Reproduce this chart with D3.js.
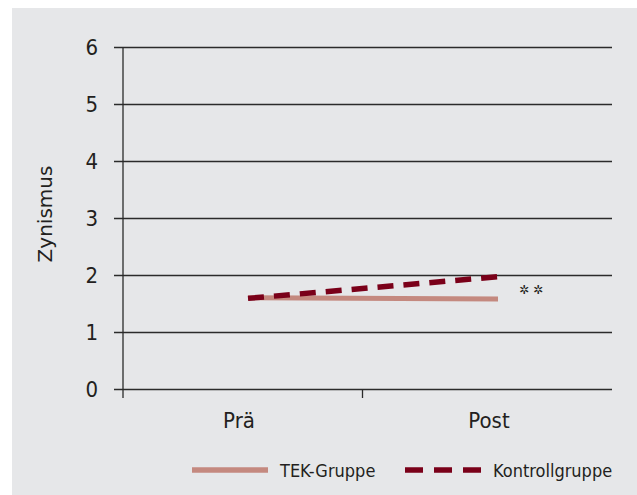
<!DOCTYPE html>
<html>
<head>
<meta charset="utf-8">
<script src="https://cdn.jsdelivr.net/npm/d3@7"></script>
<style>
  html, body { margin: 0; padding: 0; background: #ffffff; }
  svg { display: block; }
  text { font-family: "DejaVu Sans Condensed", "DejaVu Sans", sans-serif; fill: #231f20; }
</style>
</head>
<body>
<svg id="chart" width="637" height="495"></svg>
<script>
// Measurement times and group means
const categories = ["Prä", "Post"];
const tekValues = [1.60, 1.58];
const kontrollValues = [1.59, 1.97];
const yTicks = [0, 1, 2, 3, 4, 5, 6];
const seriesNames = ["TEK-Gruppe", "Kontrollgruppe"];
const yLabel = "Zynismus";
const significance = "✲ ✲";

const svg = d3.select("#chart");

// Panel background
svg.append("rect")
  .attr("x", 12).attr("y", 8)
  .attr("width", 625).attr("height", 487)
  .attr("fill", "#e6e7e9");

const plot = { left: 123, right: 612, top: 47, bottom: 389 };

const y = d3.scaleLinear().domain([0, 6]).range([plot.bottom, plot.top]);
const x = d3.scalePoint().domain(categories).range([plot.left, 623]).padding(0.5);

// Horizontal gridlines with y-axis ticks
const yAxis = d3.axisLeft(y)
  .tickValues(yTicks)
  .tickFormat(d3.format("d"))
  .tickSize(-(plot.right - plot.left))
  .tickPadding(25);

const gy = svg.append("g")
  .attr("transform", `translate(${plot.left},0)`)
  .call(yAxis);
gy.select(".domain").remove();
gy.selectAll(".tick line")
  .attr("x1", -9)
  .attr("stroke", "#2b2b2b")
  .attr("stroke-width", 1.3);
gy.selectAll(".tick text")
  .attr("font-size", 22)
  .attr("fill", "#231f20")
  .style("font-family", "'DejaVu Sans Condensed', 'DejaVu Sans', sans-serif");

// Vertical axis line
svg.append("line")
  .attr("x1", plot.left).attr("x2", plot.left)
  .attr("y1", plot.top).attr("y2", plot.bottom + 9)
  .attr("stroke", "#2b2b2b").attr("stroke-width", 1.3);

// Category divider tick on the x axis
svg.append("line")
  .attr("x1", (plot.left + plot.right) / 2 - 5).attr("x2", (plot.left + plot.right) / 2 - 5)
  .attr("y1", plot.bottom).attr("y2", plot.bottom + 9)
  .attr("stroke", "#2b2b2b").attr("stroke-width", 1.3);

// Category labels
svg.append("g").selectAll("text")
  .data(categories)
  .join("text")
  .attr("x", d => x(d) - 9)
  .attr("y", 428)
  .attr("text-anchor", "middle")
  .attr("font-size", 22)
  .text(d => d);

// Y axis title
svg.append("text")
  .attr("transform", `translate(52,${(y(2) + y(4)) / 2 - 4}) rotate(-90)`)
  .attr("text-anchor", "middle")
  .attr("font-size", 20)
  .style("font-family", "'DejaVu Sans', sans-serif")
  .text(yLabel);

const line = d3.line()
  .x((d, i) => x(categories[i]))
  .y(d => y(d));

const tekColor = "#c4897f";
const kontrollColor = "#7a0019";

svg.append("path")
  .datum(tekValues)
  .attr("d", line)
  .attr("fill", "none")
  .attr("stroke", tekColor)
  .attr("stroke-width", 5);

svg.append("path")
  .datum(kontrollValues)
  .attr("d", line)
  .attr("fill", "none")
  .attr("stroke", kontrollColor)
  .attr("stroke-width", 5.5)
  .attr("stroke-dasharray", "16,10");

// Significance marker beside the Post values
svg.append("text")
  .attr("x", x("Post") + 33)
  .attr("y", y(1.66))
  .attr("font-size", 12)
  .attr("text-anchor", "middle")
  .attr("fill", "#333")
  .style("font-family", "'DejaVu Sans', sans-serif")
  .text(significance);

// Legend
const legend = svg.append("g");
const legendItems = [
  { name: seriesNames[0], color: tekColor, dash: null, x0: 192, x1: 268, tx: 280 },
  { name: seriesNames[1], color: kontrollColor, dash: "18,11", x0: 405, x1: 482, tx: 493 }
];
legendItems.forEach(it => {
  legend.append("line")
    .attr("x1", it.x0).attr("x2", it.x1)
    .attr("y1", 470).attr("y2", 470)
    .attr("stroke", it.color)
    .attr("stroke-width", 5.5)
    .attr("stroke-dasharray", it.dash);
  legend.append("text")
    .attr("x", it.tx).attr("y", 477)
    .attr("font-size", 18)
    .text(it.name);
});
</script>
</body>
</html>
